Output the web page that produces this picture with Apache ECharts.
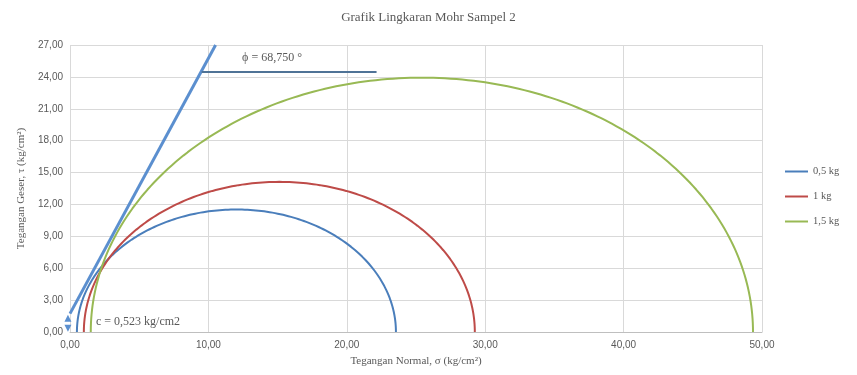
<!DOCTYPE html>
<html><head><meta charset="utf-8">
<script src="https://cdn.jsdelivr.net/npm/echarts@6/dist/echarts.min.js"></script>
<style>html,body{margin:0;padding:0;background:#fff}#c{width:857px;height:375px}</style>
</head><body><div id="c"></div>
<script>
// Data
const seriesNames = ['0,5 kg', '1 kg', '1,5 kg'];
const sigma3 = [0.5, 1.0, 1.5];        // kg/cm2
const sigma1 = [23.55, 29.25, 49.35];  // kg/cm2
const envelopeX = [0, 10.52];
const envelopeY = [1.73, 27.0];
const phiLineX = [9.51, 22.15];
const phiLineY = [24.46, 24.46];
const cArrowY = [0.35, 1.3];
const xTicks = [0, 10, 20, 30, 40, 50];
const yTicks = [0, 3, 6, 9, 12, 15, 18, 21, 24, 27];
const phiText = 'ϕ = 68,750 °';
const cText = 'c = 0,523 kg/cm2';

const colors = ['#4a7ebb', '#be4b48', '#98b954'];

function mohr(s3, s1) {
  const c = (s1 + s3) / 2, r = (s1 - s3) / 2, pts = [];
  for (let i = 0; i <= 180; i++) {
    const a = Math.PI * i / 180;
    pts.push([c - r * Math.cos(a), r * Math.sin(a)]);
  }
  return pts;
}
const fmt = v => v.toFixed(2).replace('.', ',');

const series = seriesNames.map((n, i) => ({
  name: n, type: 'line', data: mohr(sigma3[i], sigma1[i]), showSymbol: false, symbol: 'none',
  lineStyle: { color: colors[i], width: 2 }, itemStyle: { color: colors[i] }, z: 3
}));
series.push({
  type: 'line', data: envelopeX.map((x, i) => [x, envelopeY[i]]), symbol: 'none',
  lineStyle: { color: '#5b8fcf', width: 3 }, z: 4, clip: false
});
series.push({
  type: 'line', data: phiLineX.map((x, i) => [x, phiLineY[i]]), symbol: 'none',
  lineStyle: { color: '#4f7396', width: 2 }, z: 4
});
series.push({
  type: 'line',
  data: [
    { value: [-0.15, cArrowY[0]], symbol: 'triangle', symbolRotate: 180, symbolSize: [7, 7] },
    { value: [-0.15, cArrowY[1]], symbol: 'triangle', symbolRotate: 0, symbolSize: [7, 7] }
  ],
  showSymbol: true, lineStyle: { color: '#5b8fcf', width: 2 }, itemStyle: { color: '#5b8fcf' }, z: 5, clip: false
});

const chart = echarts.init(document.getElementById('c'));
chart.setOption({
  animation: false,
  title: { text: 'Grafik Lingkaran Mohr Sampel 2', left: 'center', top: 6,
    textStyle: { fontFamily: 'Liberation Serif', fontSize: 13, fontWeight: 'normal', color: '#595959' } },
  grid: { left: 70, right: 95, top: 45, bottom: 43 },
  legend: {
    orient: 'vertical', left: 780, top: 161, itemGap: 14, itemWidth: 23, itemHeight: 2, icon: 'rect',
    data: seriesNames,
    textStyle: { fontFamily: 'Liberation Serif', fontSize: 10.5, color: '#595959' }
  },
  xAxis: {
    type: 'value', min: xTicks[0], max: xTicks[xTicks.length - 1], interval: 10,
    name: 'Tegangan Normal, σ (kg/cm²)', nameLocation: 'middle', nameGap: 24,
    nameTextStyle: { fontFamily: 'Liberation Serif', fontSize: 11, color: '#595959' },
    axisLine: { lineStyle: { color: '#bfbfbf' } }, axisTick: { show: false },
    axisLabel: { formatter: fmt, fontFamily: 'Liberation Sans', fontSize: 10, color: '#595959', margin: 8 },
    splitLine: { lineStyle: { color: '#d9d9d9' } }
  },
  yAxis: {
    type: 'value', min: yTicks[0], max: yTicks[yTicks.length - 1], interval: 3,
    name: 'Tegangan Geser, τ (kg/cm²)', nameLocation: 'middle', nameGap: 38,
    nameTextStyle: { fontFamily: 'Liberation Serif', fontSize: 11, color: '#595959' },
    axisLine: { show: false }, axisTick: { show: false },
    axisLabel: { formatter: fmt, fontFamily: 'Liberation Sans', fontSize: 10, color: '#595959', margin: 7 },
    splitLine: { lineStyle: { color: '#d9d9d9' } }
  },
  series: series
});
// annotation texts placed at data coordinates
const p1 = chart.convertToPixel({ gridIndex: 0 }, [14.6, 25.8]);
const p2 = chart.convertToPixel({ gridIndex: 0 }, [1.88, 0.94]);
chart.setOption({ graphic: [
  { type: 'text', x: p1[0], y: p1[1], style: { text: phiText, fill: '#595959', font: '12px "Liberation Serif"', align: 'center', verticalAlign: 'middle' } },
  { type: 'text', x: p2[0], y: p2[1], style: { text: cText, fill: '#595959', font: '12px "Liberation Serif"', align: 'left', verticalAlign: 'middle' } }
] });
</script></body></html>
